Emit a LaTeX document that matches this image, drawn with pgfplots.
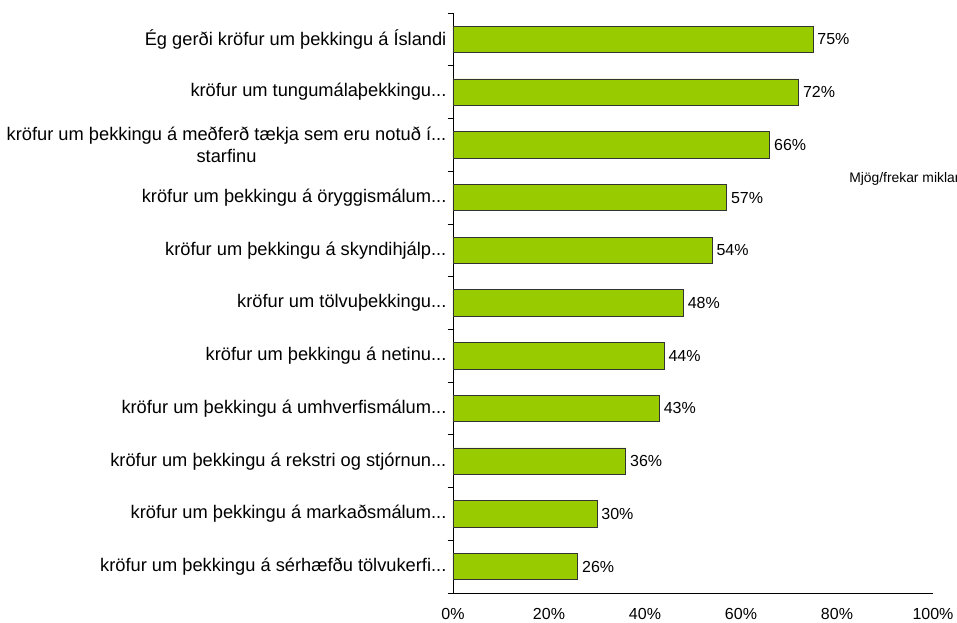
\documentclass[border=0pt]{standalone}
\usepackage{fontspec}
\setmainfont{Liberation Sans}
\usepackage{pgfplots}
\pgfplotsset{compat=1.18}
\definecolor{bargreen}{HTML}{99CC00}
\def\dd{...}
\begin{document}
\fontsize{12pt}{14pt}\selectfont
\begin{tikzpicture}
\clip (0,0) rectangle (717.75pt,467.25pt);
\begin{axis}[
    at={(339.75pt,22.5pt)}, anchor=south west,
    scale only axis, width=360pt, height=435pt,
    xbar, bar width=0.5,
    xmin=0, xmax=100,
    ymin=-0.5, ymax=10.5, y dir=reverse,
    axis lines*=left,
    xtick={0,20,40,60,80,100},
    xticklabel={\pgfmathprintnumber{\tick}\%},
    xtick style={draw=none},
    xticklabel style={yshift=-3pt, font=\fontsize{12pt}{14pt}\selectfont},
    ytick={0,1,2,3,4,5,6,7,8,9,10},
    yticklabels={
        {Ég gerði kröfur um þekkingu á Íslandi},
        {kröfur um tungumálaþekkingu\dd},
        {kröfur um þekkingu á meðferð tækja sem eru notuð í\dd\\starfinu},
        {kröfur um þekkingu á öryggismálum\dd},
        {kröfur um þekkingu á skyndihjálp\dd},
        {kröfur um tölvuþekkingu\dd},
        {kröfur um þekkingu á netinu\dd},
        {kröfur um þekkingu á umhverfismálum\dd},
        {kröfur um þekkingu á rekstri og stjórnun\dd},
        {kröfur um þekkingu á markaðsmálum\dd},
        {kröfur um þekkingu á sérhæfðu tölvukerfi\dd}},
    yticklabel style={align=center, inner xsep=0.5pt, font=\fontsize{13.7pt}{17pt}\selectfont},
    major y tick style={draw=none},
    minor ytick={-0.5,0.5,1.5,2.5,3.5,4.5,5.5,6.5,7.5,8.5,9.5,10.5},
    minor y tick style={black, line width=0.6pt},
    minor tick length=4pt,
    tick align=outside,
    axis line style={black, line width=0.6pt},
    /pgf/number format/assume math mode=true,
    nodes near coords={\pgfmathprintnumber{\pgfplotspointmeta}\%},
    nodes near coords align={horizontal},
    every node near coord/.append style={anchor=west, xshift=-1pt, black, font=\fontsize{12pt}{14pt}\selectfont},
    clip=false,
]
\addplot[fill=bargreen, draw=black!80, line width=0.6pt] coordinates {
    (75,0) (72,1) (66,2) (57,3) (54,4) (48,5) (44,6) (43,7) (36,8) (30,9) (26,10)
};
\node[anchor=west, inner sep=0pt, font=\fontsize{10.4pt}{12pt}\selectfont] at (rel axis cs:0.825,0.714) {Mjög/frekar miklar};
\end{axis}
\end{tikzpicture}
\end{document}
